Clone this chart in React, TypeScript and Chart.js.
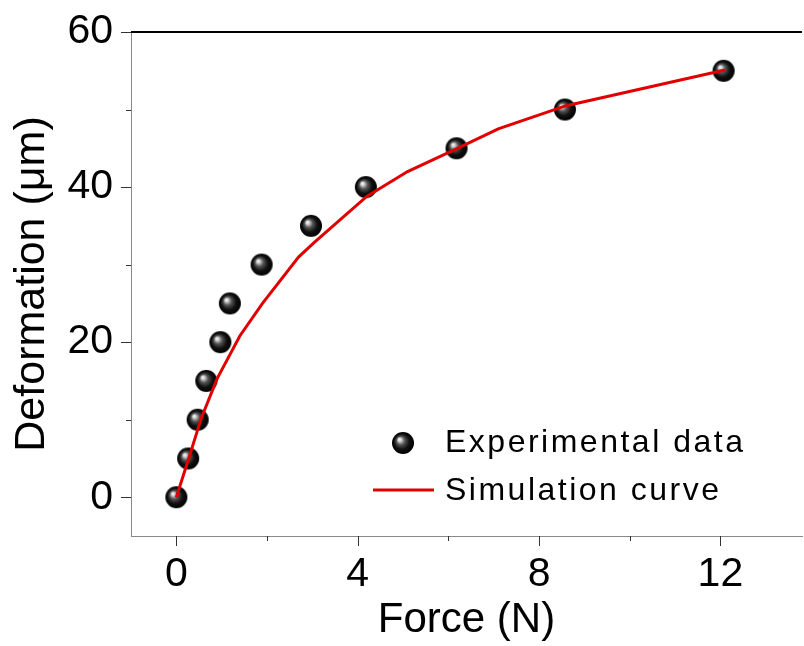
import React, { useEffect, useRef } from 'react';
import { Chart, registerables } from 'chart.js';

Chart.register(...registerables);

const forceExp = [0, 0.26, 0.47, 0.66, 0.97, 1.18, 1.88, 2.97, 4.18, 6.18, 8.57, 12.07];
const deformExp = [0, 5, 10, 15, 20, 25, 30, 35, 40, 45, 50, 55];
const forceSim = [0, 0.3, 0.55, 0.9, 1.4, 1.9, 2.7, 3.05, 4.2, 5.1, 6.2, 7.1, 8.6, 12.1];
const deformSim = [0, 5.5, 10.2, 15.3, 20.8, 25, 31, 32.9, 38.8, 42, 45, 47.5, 50.5, 55.1];
const xMajorTicks = [0, 4, 8, 12];
const xMinorTicks = [2, 6, 10];
const yMajorTicks = [0, 20, 40, 60];
const yMinorTicks = [10, 30, 50];
const legendLabels = ['Experimental data', 'Simulation curve'];
const xTitle = 'Force (N)';
const yTitle = 'Deformation (\u03bcm)';

const FONT = '"Liberation Sans", Arial, Helvetica, sans-serif';
const RED = '#e00000';

function makeSphere(r: number): HTMLCanvasElement {
  const size = r * 2 + 2;
  const c = document.createElement('canvas');
  c.width = size;
  c.height = size;
  const g = c.getContext('2d')!;
  const cx = size / 2;
  const cy = size / 2;
  const grad = g.createRadialGradient(cx - r * 0.35, cy - r * 0.35, 0, cx, cy, r);
  grad.addColorStop(0, '#ffffff');
  grad.addColorStop(0.14, '#d8d8d8');
  grad.addColorStop(0.38, '#555555');
  grad.addColorStop(0.68, '#111111');
  grad.addColorStop(1, '#000000');
  g.fillStyle = grad;
  g.beginPath();
  g.arc(cx, cy, r, 0, Math.PI * 2);
  g.fill();
  return c;
}

export default function App() {
  const ref = useRef<HTMLCanvasElement | null>(null);

  useEffect(() => {
    const canvas = ref.current;
    if (!canvas) return;
    const sphere = makeSphere(11);

    const decor = {
      id: 'decor',
      afterDraw(chart: any) {
        const ctx = chart.ctx as CanvasRenderingContext2D;
        const xs = chart.scales.x;
        const ys = chart.scales.y;
        const area = chart.chartArea;
        ctx.save();
        // top frame line
        ctx.strokeStyle = '#000';
        ctx.lineWidth = 2;
        ctx.beginPath();
        ctx.moveTo(area.left, area.top);
        ctx.lineTo(area.right, area.top);
        ctx.stroke();
        // ticks
        ctx.strokeStyle = '#333';
        ctx.lineWidth = 1;
        const xt = [...xMajorTicks.map((v) => [v, 10]), ...xMinorTicks.map((v) => [v, 5])];
        xt.forEach(([v, len]) => {
          const px = Math.round(xs.getPixelForValue(v)) + 0.5;
          ctx.beginPath();
          ctx.moveTo(px, area.bottom);
          ctx.lineTo(px, area.bottom + len);
          ctx.stroke();
        });
        const yt = [...yMajorTicks.map((v) => [v, 10]), ...yMinorTicks.map((v) => [v, 5])];
        yt.forEach(([v, len]) => {
          const py = Math.round(ys.getPixelForValue(v)) + 0.5;
          ctx.beginPath();
          ctx.moveTo(area.left - len, py);
          ctx.lineTo(area.left, py);
          ctx.stroke();
        });
        // legend
        ctx.drawImage(sphere, 403 - sphere.width / 2, 443 - sphere.height / 2);
        ctx.strokeStyle = RED;
        ctx.lineWidth = 3;
        ctx.beginPath();
        ctx.moveTo(373, 490);
        ctx.lineTo(434, 490);
        ctx.stroke();
        ctx.fillStyle = '#000';
        ctx.font = `32px ${FONT}`;
        (ctx as any).letterSpacing = '2.5px';
        ctx.textAlign = 'left';
        ctx.textBaseline = 'alphabetic';
        ctx.fillText(legendLabels[0], 445, 452);
        ctx.fillText(legendLabels[1], 445, 500);
        (ctx as any).letterSpacing = '0px';
        ctx.restore();
      },
    };

    const chart = new Chart(canvas, {
      type: 'line',
      data: {
        datasets: [
          {
            label: legendLabels[1],
            data: forceSim.map((x, i) => ({ x, y: deformSim[i] })),
            borderColor: RED,
            borderWidth: 3,
            pointRadius: 0,
            tension: 0,
            fill: false,
            order: 0,
          },
          {
            label: legendLabels[0],
            data: forceExp.map((x, i) => ({ x, y: deformExp[i] })),
            showLine: false,
            pointStyle: sphere as any,
            pointRadius: 11,
            order: 1,
          },
        ],
      },
      options: {
        animation: false,
        responsive: false,
        devicePixelRatio: 1,
        layout: { padding: { top: 32, left: 0, right: 0, bottom: 0 } },
        plugins: { legend: { display: false }, tooltip: { enabled: false } },
        scales: {
          x: {
            type: 'linear',
            min: -1,
            max: 13.8,
            afterBuildTicks: (s: any) => {
              s.ticks = xMajorTicks.map((v) => ({ value: v }));
            },
            afterFit: (s: any) => {
              s.height = 110;
              s.paddingLeft = 0;
              s.paddingRight = 0;
            },
            grid: { display: false },
            border: { display: true, color: '#888', width: 1 },
            ticks: {
              padding: 6,
              color: '#000',
              font: { family: FONT, size: 41 },
              maxRotation: 0,
              autoSkip: false,
            },
            title: {
              display: true,
              text: xTitle,
              color: '#000',
              font: { family: FONT, size: 42 },
              padding: { top: 0, bottom: 0 },
            },
          },
          y: {
            type: 'linear',
            min: -5,
            max: 60,
            afterBuildTicks: (s: any) => {
              s.ticks = yMajorTicks.map((v) => ({ value: v }));
            },
            afterFit: (s: any) => {
              s.width = 131;
              s.paddingTop = 0;
              s.paddingBottom = 0;
            },
            grid: { display: false },
            border: { display: true, color: '#888', width: 1 },
            ticks: {
              padding: 10,
              color: '#000',
              font: { family: FONT, size: 41 },
              autoSkip: false,
            },
            title: {
              display: true,
              text: yTitle,
              color: '#000',
              font: { family: FONT, size: 43 },
              padding: { top: 6, bottom: 0 },
            },
          },
        },
      },
      plugins: [decor],
    });
    return () => chart.destroy();
  }, []);

  return (
    <div style={{ position: 'fixed', left: 0, top: 0, width: 814, height: 646, background: '#fff' }}>
      <canvas ref={ref} width={814} height={646} style={{ display: 'block' }} />
    </div>
  );
}
